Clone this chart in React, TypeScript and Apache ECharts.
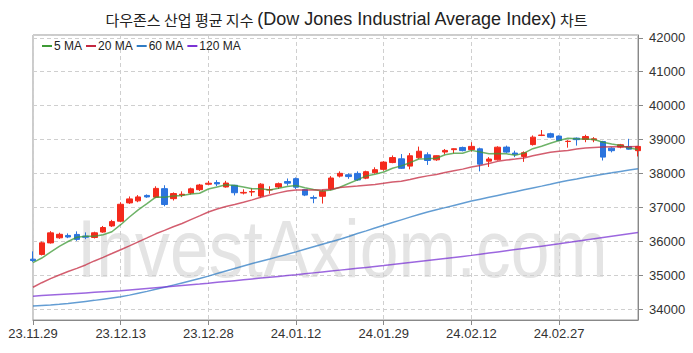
import React, { useEffect, useRef } from "react";
import * as echarts from "echarts";

const dates = [
  "23.11.29", "23.11.30", "23.12.01", "23.12.04", "23.12.05", "23.12.06", "23.12.07", "23.12.08", "23.12.11", "23.12.12",
  "23.12.13", "23.12.14", "23.12.15", "23.12.18", "23.12.19", "23.12.20", "23.12.21", "23.12.22", "23.12.26", "23.12.27",
  "23.12.28", "23.12.29", "24.01.02", "24.01.03", "24.01.04", "24.01.05", "24.01.08", "24.01.09", "24.01.10", "24.01.11",
  "24.01.12", "24.01.16", "24.01.17", "24.01.18", "24.01.19", "24.01.22", "24.01.23", "24.01.24", "24.01.25", "24.01.26",
  "24.01.29", "24.01.30", "24.01.31", "24.02.01", "24.02.02", "24.02.05", "24.02.06", "24.02.07", "24.02.08", "24.02.09",
  "24.02.12", "24.02.13", "24.02.14", "24.02.15", "24.02.16", "24.02.20", "24.02.21", "24.02.22", "24.02.23", "24.02.26",
  "24.02.27", "24.02.28", "24.02.29", "24.03.01", "24.03.04", "24.03.05", "24.03.06", "24.03.07", "24.03.08", "24.03.11",
];

const opens = [
  35470, 35610, 35950, 36100, 36170, 36200, 36150, 36110, 36270, 36450,
  36590, 37130, 37190, 37350, 37300, 37550, 37255, 37360, 37420, 37520,
  37680, 37730, 37600, 37650, 37420, 37450, 37330, 37510, 37600, 37760,
  37845, 37520, 37290, 37325, 37550, 37920, 37960, 38000, 37860, 38020,
  38120, 38320, 38430, 38215, 38460, 38550, 38400, 38630, 38700, 38765,
  38700, 38725, 38360, 38400, 38775, 38600, 38500, 38850, 39120, 39170,
  39100, 38940, 39040, 39000, 38990, 38940, 38745, 38775, 38795, 38670,
];
const closes = [
  35430, 35951, 36246, 36204, 36124, 36054, 36117, 36248, 36404, 36578,
  37090, 37248, 37306, 37306, 37558, 37082, 37405, 37385, 37545, 37657,
  37710, 37690, 37715, 37430, 37440, 37466, 37683, 37525, 37696, 37711,
  37593, 37361, 37267, 37469, 37864, 38002, 37906, 37806, 38050, 38109,
  38333, 38467, 38150, 38520, 38654, 38380, 38521, 38678, 38727, 38672,
  38797, 38273, 38424, 38773, 38628, 38564, 38612, 39069, 39131, 39069,
  38972, 38949, 38996, 39087, 39020, 38480, 38670, 38845, 38715, 38795,
];
const lows = [
  35390, 35580, 35930, 36070, 36090, 36010, 36060, 36080, 36250, 36420,
  36560, 37100, 37150, 37280, 37270, 37030, 37200, 37300, 37380, 37480,
  37660, 37620, 37580, 37350, 37380, 37330, 37280, 37400, 37540, 37640,
  37540, 37330, 37120, 37110, 37500, 37880, 37840, 37780, 37830, 37990,
  38080, 38300, 38130, 38120, 38430, 38250, 38370, 38560, 38590, 38650,
  38640, 38060, 38190, 38380, 38600, 38480, 38340, 38820, 39100, 39040,
  38950, 38760, 38820, 38920, 38920, 38380, 38620, 38740, 38700, 38500,
];
const highs = [
  35700, 35990, 36296, 36250, 36230, 36290, 36260, 36280, 36450, 36630,
  37150, 37320, 37360, 37380, 37620, 37650, 37440, 37470, 37580, 37690,
  37780, 37800, 37780, 37660, 37530, 37560, 37710, 37620, 37730, 37850,
  37880, 37540, 37350, 37520, 37920, 38060, 38000, 38060, 38080, 38180,
  38360, 38530, 38570, 38600, 38790, 38620, 38530, 38720, 38740, 38790,
  38920, 38760, 38480, 38800, 38820, 38670, 38650, 39120, 39280, 39200,
  39120, 38980, 39060, 39140, 39070, 38960, 38770, 38870, 39020, 38810,
];

const ma5 = [
  35369, 35504, 35676, 35850, 35991, 36116, 36149, 36149, 36189, 36280,
  36487, 36714, 36925, 37106, 37302, 37300, 37331, 37347, 37395, 37415,
  37540, 37597, 37663, 37640, 37597, 37548, 37547, 37509, 37562, 37616,
  37642, 37577, 37526, 37480, 37511, 37593, 37702, 37809, 37926, 37975,
  38041, 38153, 38222, 38316, 38425, 38434, 38445, 38551, 38592, 38596,
  38679, 38629, 38579, 38588, 38579, 38532, 38600, 38729, 38801, 38889,
  38971, 39038, 39023, 39015, 38999, 38921, 38864, 38823, 38750, 38706,
];
const ma20 = [
  34642, 34776, 34896, 35003, 35105, 35200, 35300, 35418, 35524, 35636,
  35749, 35862, 35980, 36098, 36218, 36318, 36425, 36524, 36635, 36747,
  36861, 36948, 37021, 37083, 37148, 37219, 37297, 37361, 37426, 37482,
  37508, 37513, 37511, 37519, 37535, 37581, 37606, 37627, 37652, 37675,
  37706, 37745, 37766, 37821, 37882, 37927, 37969, 38027, 38078, 38126,
  38187, 38232, 38290, 38355, 38394, 38422, 38457, 38520, 38574, 38622,
  38654, 38678, 38720, 38749, 38766, 38776, 38783, 38789, 38788, 38793,
];
const ma60 = [
  34090, 34105, 34120, 34140, 34165, 34195, 34225, 34255, 34290, 34325,
  34360, 34410, 34465, 34520, 34580, 34640, 34705, 34770, 34835, 34900,
  34970, 35045, 35120, 35195, 35270, 35340, 35410, 35475, 35545, 35615,
  35685, 35760, 35835, 35910, 35985, 36060, 36140, 36225, 36305, 36390,
  36470, 36550, 36630, 36710, 36785, 36860, 36925, 36990, 37055, 37120,
  37185, 37240, 37295, 37350, 37405, 37460, 37515, 37570, 37625, 37681,
  37740, 37790, 37836, 37884, 37932, 37974, 38016, 38059, 38097, 38134,
];
const ma120 = [
  34380, 34396, 34412, 34428, 34444, 34460, 34476, 34492, 34508, 34524,
  34540, 34562, 34584, 34606, 34628, 34650, 34672, 34694, 34716, 34738,
  34762, 34787, 34812, 34837, 34862, 34887, 34912, 34937, 34962, 34987,
  35012, 35039, 35066, 35093, 35120, 35147, 35174, 35201, 35228, 35255,
  35282, 35312, 35342, 35372, 35402, 35432, 35462, 35492, 35522, 35552,
  35582, 35616, 35650, 35684, 35718, 35752, 35786, 35820, 35854, 35888,
  35922, 35959, 35996, 36033, 36070, 36107, 36144, 36181, 36218, 36255,
];

const titleKo1 = "다우존스 산업 평균 지수 ";
const titleEn = "(Dow Jones Industrial Average Index)";
const titleKo2 = " 차트";
const watermark = "InvestAxiom.com";
const maNames = ["5 MA", "20 MA", "60 MA", "120 MA"];
const maColors = ["#3e9a35", "#c4283f", "#2f7cc4", "#7b34d4"];

const SANS = "'Liberation Sans', Arial, sans-serif";

export default function App() {
  const ref = useRef<HTMLDivElement>(null);
  useEffect(() => {
    if (!ref.current) return;
    const chart = echarts.init(ref.current, undefined, { renderer: "svg" });
    const candleData = opens.map((o, i) => [o, closes[i], lows[i], highs[i]]);
    const maData = [ma5, ma20, ma60, ma120];
    chart.setOption({
      animation: false,
      backgroundColor: "#ffffff",
      title: {
        text: `{k|${titleKo1}}{l|${titleEn}}{k|${titleKo2}}`,
        left: "center",
        top: 2,
        textStyle: {
          fontWeight: "normal",
          rich: {
            k: { fontSize: 15, fontWeight: "normal", color: "#222", fontFamily: "'Noto Sans CJK KR', sans-serif", lineHeight: 24 },
            l: { fontSize: 18, fontWeight: "normal", color: "#222", fontFamily: SANS, lineHeight: 24 },
          },
        },
      },
      legend: {
        left: 37,
        top: 35,
        itemGap: 4,
        itemWidth: 10,
        itemHeight: 2,
        icon: "rect",
        data: maNames,
        textStyle: { fontSize: 12, color: "#222", fontFamily: SANS, padding: [0, 0, 0, -3] },
      },
      graphic: [
        {
          type: "text",
          x: 77,
          y: 207,
          scaleX: 0.85,
          z: -10,
          silent: true,
          style: {
            text: watermark,
            fontSize: 82,
            fontFamily: SANS,
            fill: "#e4e4e4",
            textBaseline: "alphabetic",
            textAlign: "left",
          },
        },
      ],
      grid: {
        left: 33,
        right: 55,
        top: 35,
        bottom: 33,
        show: true,
        borderColor: "#999",
        borderWidth: 1,
        backgroundColor: "transparent",
      },
      xAxis: {
        type: "category",
        data: dates,
        boundaryGap: false,
        axisLine: { lineStyle: { color: "#888" } },
        axisTick: { show: true, interval: 9, length: 5, lineStyle: { color: "#888" } },
        axisLabel: { interval: 9, fontSize: 13, color: "#333", fontFamily: SANS, margin: 7 },
        splitLine: { show: true, interval: 9, lineStyle: { color: "#cfcfcf", type: [4, 3] } },
      },
      yAxis: {
        type: "value",
        position: "right",
        min: 33676,
        max: 42082,
        splitNumber: 8,
        scale: true,
        axisLine: { show: true, lineStyle: { color: "#888" } },
        axisTick: { show: true, length: 5, lineStyle: { color: "#888" } },
        axisLabel: {
          fontSize: 13,
          color: "#333",
          fontFamily: SANS,
          margin: 11,
          showMinLabel: false,
          showMaxLabel: false,
          formatter: (v: number) => String(v),
        },
        splitLine: { show: true, lineStyle: { color: "#cfcfcf", type: [4, 3] } },
      },
      series: [
        {
          type: "candlestick",
          name: "DJI",
          data: candleData,
          barWidth: 6,
          z: 3,
          itemStyle: {
            color: "#f42a1c",
            color0: "#2b74de",
            borderColor: "#f42a1c",
            borderColor0: "#2b74de",
            borderWidth: 1,
          },
        },
        ...maNames.map((name, k) => ({
          type: "line",
          name,
          data: maData[k],
          symbol: "none",
          z: 4,
          color: maColors[k],
          lineStyle: { width: 1.5, color: maColors[k], opacity: 0.75 },
        })),
      ],
    });
    return () => chart.dispose();
  }, []);
  return <div ref={ref} style={{ position: "absolute", left: 0, top: 0, width: 693, height: 353 }} />;
}
